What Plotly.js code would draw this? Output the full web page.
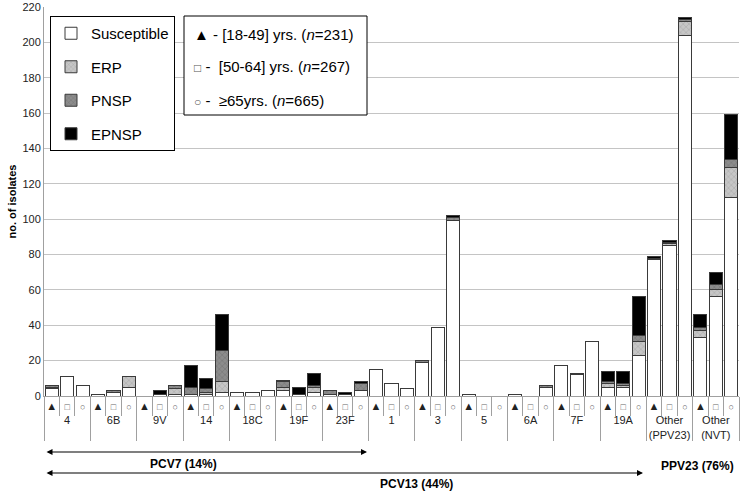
<!DOCTYPE html>
<html>
<head>
<meta charset="utf-8">
<script src="https://cdn.plot.ly/plotly-3.0.1.min.js"></script>
<style>
  html, body { margin: 0; padding: 0; background: #fff; }
  #chart { width: 743px; height: 493px; }
</style>
</head>
<body>
<div id="chart"></div>
<script>
// serotype groups and the three age groups inside each
var serotypes = ['4', '6B', '9V', '14', '18C', '19F', '23F', '1', '3', '5', '6A', '7F', '19A',
                 'Other<br>(PPV23)', 'Other<br>(NVT)'];
var ageMarks = ['▲', '<span style="font-size:9px;color:#666">□</span>',
                '<span style="font-size:9px;color:#666">○</span>'];

// no. of isolates per bar, order: serotype x (18-49, 50-64, >=65)
var susceptible = [4, 11, 6,   1, 2, 5,   0, 1, 1,   1, 1, 2,   2, 2, 3,   3, 1, 2,   1, 1, 3,
                   15, 7, 4,   19, 39, 99,   1, 0, 0,   1, 0, 5,   17, 12, 31,   5, 5, 23,
                   77, 85, 204,   33, 56, 112];
var erp         = [1, 0, 0,    0, 0, 6,   0, 0, 3,   0, 1, 6,   0, 0, 0,   2, 0, 3,   0, 0, 0,
                   0, 0, 0,    0, 0, 0,     0, 0, 0,   0, 0, 0,   0, 0, 0,     2, 1, 8,
                   0, 1, 8,       4, 4, 17];
var pnsp        = [1, 0, 0,    0, 1, 0,   0, 0, 2,   4, 2, 18,  0, 0, 0,   3, 0, 1,   2, 0, 4,
                   0, 0, 0,    1, 0, 2,     0, 0, 0,   0, 0, 1,   0, 1, 0,     1, 1, 3,
                   1, 1, 1,       2, 3, 5];
var epnsp       = [0, 0, 0,    0, 0, 0,   0, 2, 0,   12, 6, 20, 0, 0, 0,   1, 4, 7,   0, 1, 1,
                   0, 0, 0,    0, 0, 1,     0, 0, 0,   0, 0, 0,   0, 0, 0,     6, 7, 22,
                   1, 1, 1,       7, 7, 25];

var groupAxis = [], ageAxis = [];
serotypes.forEach(function (s) {
    ageMarks.forEach(function (m) {
        groupAxis.push(s);
        ageAxis.push(m);
    });
});

var edge = '#3a3a3a';
function barTrace(name, values, color, pattern) {
    var marker = { color: color, line: { color: edge, width: 1 } };
    if (pattern) marker.pattern = pattern;
    return {
        type: 'bar', name: name, legendgroup: name,
        x: [groupAxis, ageAxis], y: values,
        marker: marker, hoverinfo: 'y+name'
    };
}

var traces = [
    barTrace('Susceptible', susceptible, '#ffffff'),
    barTrace('ERP', erp, '#c6c6c6', { shape: 'x', size: 4, solidity: 0.2, fgcolor: '#a0a0a0', bgcolor: '#c6c6c6' }),
    barTrace('PNSP', pnsp, '#8c8c8c', { shape: 'x', size: 4, solidity: 0.2, fgcolor: '#6c6c6c', bgcolor: '#8c8c8c' }),
    barTrace('EPNSP', epnsp, '#000000')
];

var font = 'Liberation Sans, Arial, sans-serif';
var grey = '#a0a0a0';

// pixel helpers for the decorations below the axis (plot area 44..739 x 7..396)
function px(x) { return (x - 44) / 695; }
function py(y) { return (396 - y) / 389; }

var ageText = [
    '▲ - [18-49] yrs. (<i>n</i>=231)',
    '<span style="font-size:12px;color:#555">□</span> -  [50-64] yrs. (<i>n</i>=267)',
    '<span style="font-size:12px;color:#555">○</span> -  ≥65yrs. (<i>n</i>=665)'
];
var ageRows = [34, 66, 100];

var annotations = ageText.map(function (t, i) {
    return {
        xref: 'paper', yref: 'paper', x: px(192), y: py(ageRows[i]),
        xanchor: 'left', yanchor: 'middle', showarrow: false,
        text: t, font: { family: font, size: 15, color: '#000' }
    };
});

function arrow(x0, x1, y) {
    return {
        xref: 'paper', yref: 'paper', x: px(x1), y: py(y),
        ax: -(x1 - x0), ay: 0, text: '', showarrow: true,
        arrowside: 'end+start', arrowhead: 2, arrowsize: 1, arrowwidth: 1.2,
        arrowcolor: '#000', standoff: 0, startstandoff: 0
    };
}
function label(t, x, y) {
    return {
        xref: 'paper', yref: 'paper', x: px(x), y: py(y), showarrow: false,
        xanchor: 'center', yanchor: 'middle',
        text: '<b>' + t + '</b>', font: { family: font, size: 12, color: '#000' }
    };
}
annotations.push(arrow(45, 367, 452));
annotations.push(arrow(45, 643, 473));
annotations.push(label('PCV7 (14%)', 183, 464));
annotations.push(label('PCV13 (44%)', 417, 484));
annotations.push(label('PPV23 (76%)', 697, 466));

var layout = {
    width: 743, height: 493,
    margin: { l: 44, r: 4, t: 7, b: 97 },
    paper_bgcolor: '#fff', plot_bgcolor: '#fff',
    font: { family: font, size: 11, color: '#000' },
    barmode: 'stack', bargap: 0.15,
    showlegend: true,
    legend: {
        x: px(50), y: py(16), xanchor: 'left', yanchor: 'top',
        bgcolor: '#fff', bordercolor: '#000', borderwidth: 1,
        font: { family: font, size: 15, color: '#000' },
        traceorder: 'grouped', tracegroupgap: 11
    },
    xaxis: {
        type: 'multicategory', tickangle: 0,
        showdividers: true, dividercolor: grey, dividerwidth: 1,
        ticks: 'outside', tickson: 'boundaries', ticklen: 19, tickcolor: grey,
        showline: true, linecolor: grey, showgrid: false,
        tickfont: { family: font, size: 11, color: '#222' }
    },
    yaxis: {
        range: [0, 220], dtick: 20, showline: true, linecolor: grey,
        gridcolor: '#c4c4c4', zeroline: false, ticks: '',
        tickfont: { family: font, size: 11, color: '#222' },
        title: { text: '<b>no. of isolates</b>', font: { family: font, size: 11, color: '#000' }, standoff: 3 }
    },
    shapes: [{
        type: 'rect', xref: 'paper', yref: 'paper',
        x0: px(184), x1: px(367), y0: py(115), y1: py(16),
        line: { color: '#000', width: 1 }, fillcolor: '#fff', layer: 'above'
    }],
    annotations: annotations
};

Plotly.newPlot('chart', traces, layout, { displayModeBar: false, staticPlot: true });
</script>
</body>
</html>
